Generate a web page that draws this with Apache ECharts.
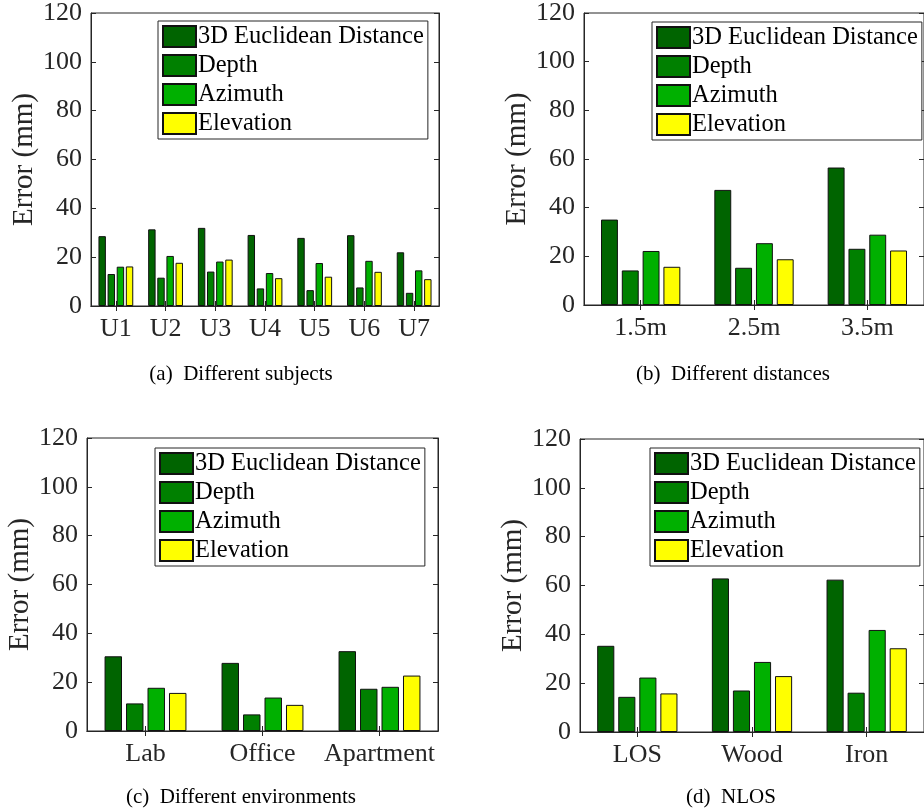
<!DOCTYPE html>
<html>
<head>
<meta charset="utf-8">
<script src="https://cdn.jsdelivr.net/npm/echarts@6/dist/echarts.min.js"></script>
<style>
html,body{margin:0;padding:0;background:#fff;}
#chart{width:924px;height:812px;}
</style>
</head>
<body>
<div id="chart"></div>
<script>
// ---- data ----
const seriesNames = ['3D Euclidean Distance', 'Depth', 'Azimuth', 'Elevation'];
const seriesColors = ['#006400', '#008000', '#00b000', '#ffff00'];
const yTicks = [0, 20, 40, 60, 80, 100, 120];

const catsA = ['U1', 'U2', 'U3', 'U4', 'U5', 'U6', 'U7'];
const a3D   = [28.6, 31.4, 32.0, 29.1, 27.9, 29.0, 22.0];
const aDep  = [13.1, 11.6, 14.1, 7.2, 6.5, 7.6, 5.4];
const aAzi  = [16.1, 20.5, 18.2, 13.5, 17.6, 18.5, 14.6];
const aEle  = [16.2, 17.7, 19.0, 11.4, 12.0, 14.0, 11.0];

const catsB = ['1.5m', '2.5m', '3.5m'];
const b3D   = [35.1, 47.3, 56.5];
const bDep  = [14.2, 15.3, 23.1];
const bAzi  = [22.2, 25.4, 28.9];
const bEle  = [15.7, 18.8, 22.4];

const catsC = ['Lab', 'Office', 'Apartment'];
const c3D   = [30.6, 27.9, 32.7];
const cDep  = [11.3, 6.8, 17.3];
const cAzi  = [17.7, 13.7, 18.1];
const cEle  = [15.6, 10.7, 22.7];

const catsD = ['LOS', 'Wood', 'Iron'];
const d3D   = [35.3, 62.9, 62.4];
const dDep  = [14.4, 17.0, 16.1];
const dAzi  = [22.3, 28.7, 41.8];
const dEle  = [15.8, 22.9, 34.3];

const captions = ['(a)  Different subjects', '(b)  Different distances', '(c)  Different environments', '(d)  NLOS'];
const yName = 'Error (mm)';

// ---- layout ----
const panels = [
  {cats: catsA, data: [a3D, aDep, aAzi, aEle], grid: {left: 91, right: 485, top: 13, bottom: 506}, legend: {left: 158, top: 21}, nameGap: 52, cap: {x: 241, y: 374}},
  {cats: catsB, data: [b3D, bDep, bAzi, bEle], grid: {left: 584, right: -10, top: 12, bottom: 507}, legend: {left: 652, top: 22}, nameGap: 52, cap: {x: 733, y: 374}},
  {cats: catsC, data: [c3D, cDep, cAzi, cEle], grid: {left: 87, right: 486, top: 438, bottom: 81}, legend: {left: 155, top: 448}, nameGap: 48, cap: {x: 241, y: 797}},
  {cats: catsD, data: [d3D, dDep, dAzi, dEle], grid: {left: 580, right: -6, top: 439, bottom: 80}, legend: {left: 650, top: 448}, nameGap: 48, cap: {x: 731, y: 797}}
];

const FONT = '"Liberation Serif", "Times New Roman", serif';
const AX = '#262626';

const grids = [], xAxes = [], yAxes = [], series = [], legends = [], graphics = [];

panels.forEach((p, i) => {
  grids.push(Object.assign({show: true, borderColor: AX, borderWidth: 1, backgroundColor: 'transparent', containLabel: false}, p.grid));
  // bottom x axis
  xAxes.push({
    type: 'category', gridIndex: i, data: p.cats, position: 'bottom',
    axisLine: {show: true, lineStyle: {color: AX, width: 1}},
    axisTick: {show: true, inside: true, alignWithLabel: true, length: 5, lineStyle: {color: AX}},
    axisLabel: {color: AX, fontFamily: FONT, fontSize: 26, margin: 10, interval: 0},
    splitLine: {show: false}
  });
  // top x axis (box ticks)
  xAxes.push({
    type: 'category', gridIndex: i, data: p.cats, position: 'top',
    axisLine: {show: true, lineStyle: {color: AX, width: 1}},
    axisTick: {show: true, inside: true, alignWithLabel: true, length: 5, lineStyle: {color: AX}, interval: 0},
    axisLabel: {show: false}, splitLine: {show: false}
  });
  // left y axis
  yAxes.push({
    type: 'value', gridIndex: i, min: 0, max: 120, interval: 20, position: 'left',
    name: yName, nameLocation: 'middle', nameGap: p.nameGap, nameRotate: 90,
    nameTextStyle: {color: AX, fontFamily: FONT, fontSize: 29},
    axisLine: {show: true, lineStyle: {color: AX, width: 1}},
    axisTick: {show: true, inside: true, length: 5, lineStyle: {color: AX}},
    axisLabel: {color: AX, fontFamily: FONT, fontSize: 26, margin: 9, formatter: v => yTicks.includes(v) ? String(v) : ''},
    splitLine: {show: false}
  });
  // right y axis (box ticks)
  yAxes.push({
    type: 'value', gridIndex: i, min: 0, max: 120, interval: 20, position: 'right',
    axisLine: {show: true, lineStyle: {color: AX, width: 1}},
    axisTick: {show: true, inside: true, length: 5, lineStyle: {color: AX}},
    axisLabel: {show: false}, splitLine: {show: false}
  });
  p.data.forEach((vals, k) => {
    series.push({
      type: 'bar', name: seriesNames[k], xAxisIndex: i * 2, yAxisIndex: i * 2,
      data: vals, barCategoryGap: '30%', barGap: '23%',
      itemStyle: {color: seriesColors[k], borderColor: '#111', borderWidth: 1},
      emphasis: {disabled: true}, animation: false
    });
  });
  legends.push({
    data: seriesNames, orient: 'vertical', left: p.legend.left, top: p.legend.top,
    icon: 'rect', itemWidth: 33, itemHeight: 21, itemGap: 4,
    padding: [3, 4, 3, 4], borderColor: AX, borderWidth: 1, backgroundColor: '#fff',
    textStyle: {fontFamily: FONT, fontSize: 24.5, color: '#000', padding: [0, 0, 0, -3]},
    selectedMode: false
  });
  graphics.push({
    type: 'text', x: p.cap.x, y: p.cap.y,
    style: {text: captions[i], font: '21px ' + FONT, fill: '#000', textAlign: 'center', textVerticalAlign: 'middle'}
  });
});

const chart = echarts.init(document.getElementById('chart'), null, {renderer: 'canvas'});
chart.setOption({
  animation: false,
  backgroundColor: '#fff',
  grid: grids, xAxis: xAxes, yAxis: yAxes, series: series, legend: legends,
  graphic: graphics
});
</script>
</body>
</html>
